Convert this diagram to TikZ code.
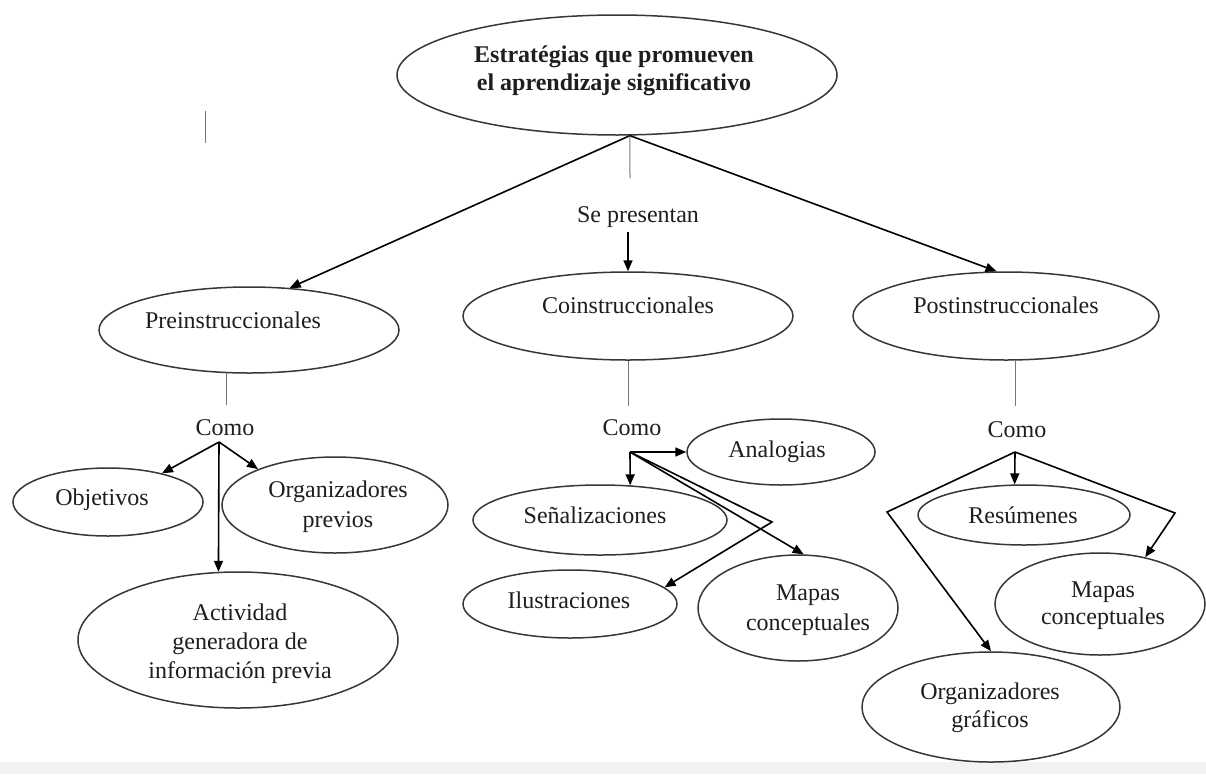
\documentclass[tikz,border=0pt]{standalone}
\usepackage{fontspec}
\setmainfont{Liberation Serif}
\usetikzlibrary{shapes.geometric,arrows.meta}
\definecolor{ovalc}{RGB}{55,55,55}
\definecolor{vlc}{RGB}{120,120,120}
\definecolor{txtc}{RGB}{30,30,30}
\definecolor{bandc}{RGB}{242,242,242}
\begin{document}
\begin{tikzpicture}[x=1pt,y=-1pt,
  oval/.style={draw=ovalc, line width=1.5pt, ellipse, inner sep=0pt},
  txt/.style={font=\fontsize{24}{30}\selectfont, text=txtc, inner sep=0pt, anchor=base, align=center},
  arr/.style={draw=black, line width=1.6pt, -{Triangle[length=11pt,width=9pt]}},
  vline/.style={draw=vlc, line width=1pt},
]
\useasboundingbox (0,0) rectangle (1206,774);
\fill[white] (0,0) rectangle (1206,774);
\fill[bandc] (0,762) rectangle (1206,774);

% ellipses
\node[oval, minimum width=440pt, minimum height=120pt] (top) at (617,75) {};
\node[oval, minimum width=300pt, minimum height=86pt] (pre) at (249,330) {};
\node[oval, minimum width=330pt, minimum height=88pt] (co) at (628,316) {};
\node[oval, minimum width=306pt, minimum height=88pt] (post) at (1006,316) {};
\node[oval, minimum width=190pt, minimum height=68pt] (obj) at (108,502) {};
\node[oval, minimum width=226pt, minimum height=96pt] (op) at (335,505) {};
\node[oval, minimum width=320pt, minimum height=136pt] (act) at (238,640) {};
\node[oval, minimum width=188pt, minimum height=66pt] (an) at (781,452) {};
\node[oval, minimum width=254pt, minimum height=70pt] (sen) at (600,520) {};
\node[oval, minimum width=214pt, minimum height=68pt] (il) at (570,604) {};
\node[oval, minimum width=200pt, minimum height=106pt] (mapc) at (798,608) {};
\node[oval, minimum width=212pt, minimum height=60pt] (res) at (1024,515) {};
\node[oval, minimum width=210pt, minimum height=102pt] (mapr) at (1100,604) {};
\node[oval, minimum width=258pt, minimum height=110pt] (og) at (991,707) {};

% texts (anchor base = baseline of the last line)
\node[txt, font=\bfseries\fontsize{24}{28}\selectfont] (topT) at (614,90) {Estratégias que promueven\\el aprendizaje significativo};
\node[txt] (preT) at (233,328) {Preinstruccionales};
\node[txt] (coT) at (628,313) {Coinstruccionales};
\node[txt] (postT) at (1006,313) {Postinstruccionales};
\node[txt] (se) at (638,222) {Se presentan};
\node[txt] (como1) at (225,435) {Como};
\node[txt] (como2) at (632,435) {Como};
\node[txt] (como3) at (1017,437) {Como};
\node[txt] (objT) at (102,505) {Objetivos};
\node[txt] (opT) at (338,527) {Organizadores\\previos};
\node[txt, font=\fontsize{24}{29}\selectfont] (actT) at (240,678) {Actividad\\generadora de\\información previa};
\node[txt] (anT) at (777,457) {Analogias};
\node[txt] (senT) at (595,523) {Señalizaciones};
\node[txt] (ilT) at (569,608) {Ilustraciones};
\node[txt] (mapcT) at (808,630) {Mapas\\conceptuales};
\node[txt] (resT) at (1023,523) {Resúmenes};
\node[txt, font=\fontsize{24}{27}\selectfont] (maprT) at (1103,624) {Mapas\\conceptuales};
\node[txt, font=\fontsize{24}{28}\selectfont] (ogT) at (990,727) {Organizadores\\gráficos};

% coordinates
\coordinate (sp1) at (630,178);
\coordinate (sp2) at (628,232);
\coordinate (b1) at (219,442);
\coordinate (b2) at (630,452);
\coordinate (b3) at (1015,452);
\coordinate (k1) at (772,522);
\coordinate (k2) at (887,512);
\coordinate (k3) at (1175,513);
\coordinate (s1) at (205,111);
\coordinate (s2) at (205,143);

% connectors
\draw[arr] (top.-78) -- (pre.46);
\draw[arr] (top.-78) -- (post.102);
\draw[vline] (top.-78) -- (sp1);
\draw[arr] (sp2) -- (co.north);
\draw[vline] (pre.-117) -- ++(0,32);
\draw[vline] (co.south) -- ++(0,45);
\draw[vline] (post.-78) -- ++(0,45);

\draw[arr] (b1) -- (obj.28);
\draw[arr] (b1) -- (op.155);
\draw[arr] (b1) -- (act.106);

\draw[arr] (b2) -- (an.west);
\draw[arr] (b2) -- (sen.49);
\draw[arr] (b2) -- (mapc.84);
\draw[arr] (b2) -- (k1) -- (il.10);

\draw[arr] (b3) -- (res.107);
\draw[arr] (b3) -- (k2) -- (og.north);
\draw[arr] (b3) -- (k3) -- (mapr.46);

\draw[vline] (s1) -- (s2);
\end{tikzpicture}
\end{document}
